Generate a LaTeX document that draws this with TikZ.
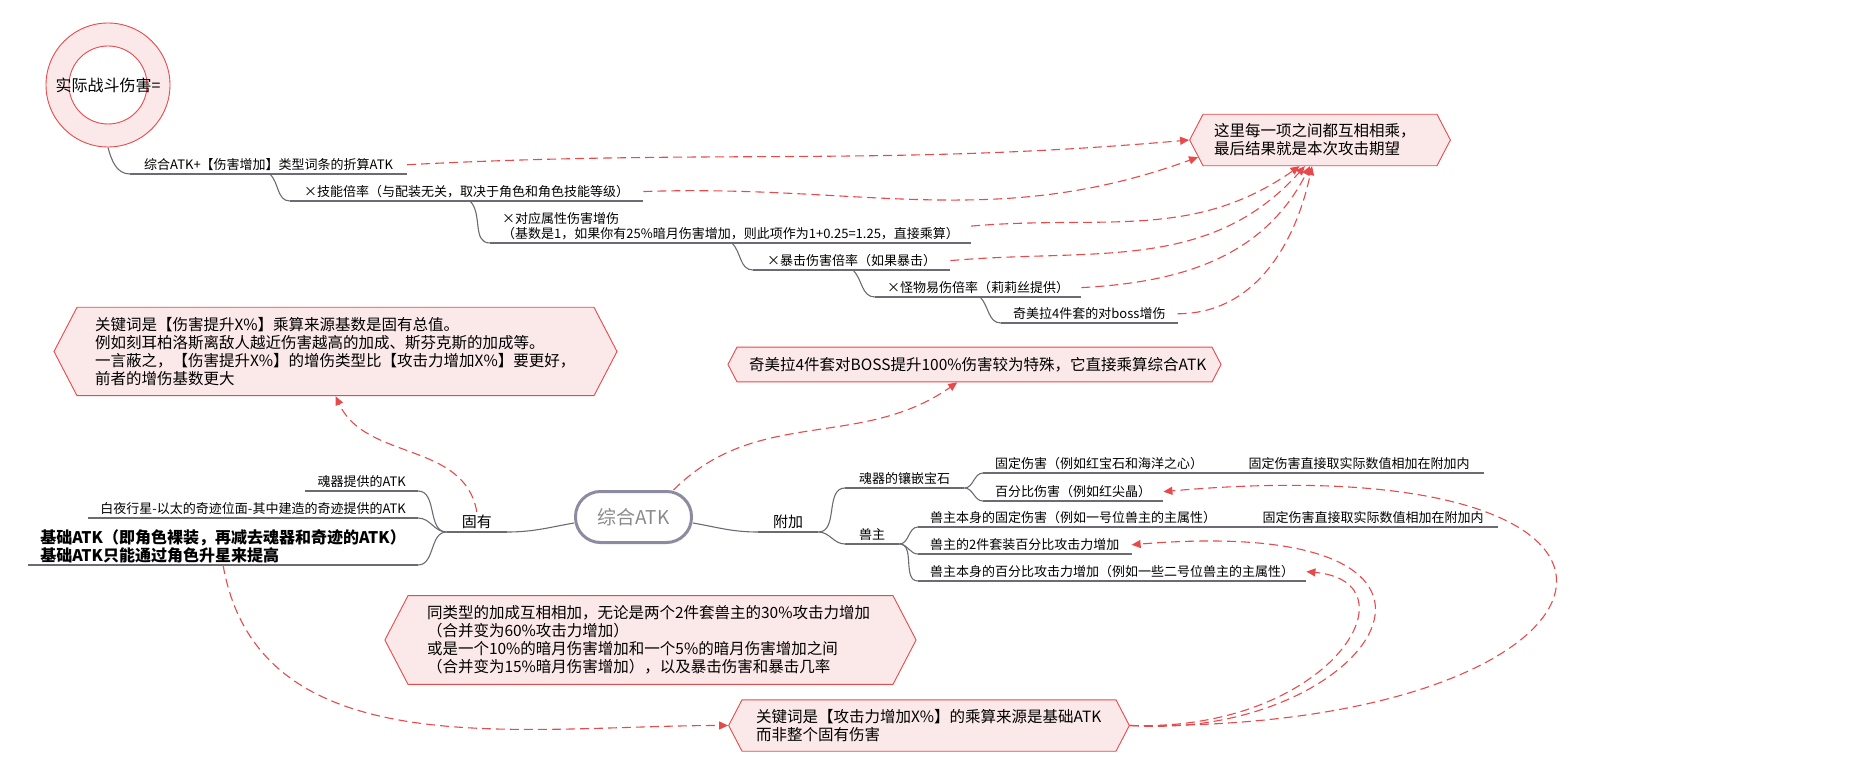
\documentclass[tikz,border=0pt]{standalone}
\usepackage{fontspec}
\setmainfont{Noto Sans CJK SC}
\usepackage{tikz}
\usetikzlibrary{positioning}
\usetikzlibrary{calc}
\usetikzlibrary{arrows.meta}
\usetikzlibrary{shapes.symbols}

\definecolor{notefill}{HTML}{FBE8E8}
\definecolor{notered}{HTML}{E8494B}
\definecolor{treegray}{HTML}{6E6A74}
\definecolor{hubgray}{HTML}{8C8BA0}
\definecolor{hubtext}{HTML}{8A8A8A}

\tikzset{
    topic/.style={anchor=south west, inner xsep=12pt, inner ysep=3pt, font=\fontsize{13}{15}\selectfont},
    branch/.style={draw=treegray, line width=1.1pt},
    note/.style={shape=signal, signal to=west and east, signal pointer angle=125, draw=notered, fill=notefill, line width=0.9pt, align=left, font=\fontsize{15.5}{18}\selectfont},
    link/.style={notered, line width=1.1pt, dash pattern=on 9pt off 5pt, -{Triangle[width=8pt,length=9pt]}},
    ringout/.style={circle, draw=notered, fill=notefill, line width=0.9pt, minimum size=124pt, inner sep=0pt},
    ringin/.style={circle, draw=notered, fill=white, line width=0.9pt, minimum size=78pt, inner sep=0pt},
    hub/.style={rectangle, rounded corners=25pt, draw=hubgray, line width=3pt, minimum width=116pt, minimum height=51pt, text=hubtext, font=\fontsize{19}{21}\selectfont},
}

\begin{document}
\begin{tikzpicture}[x=1pt, y=1pt]
    \useasboundingbox (0,0) rectangle (1858,772);

    \node[ringout] (goal) at (108,687) {};
    \node[ringin] (goalin) at (goal.center) {};
    \node[font=\fontsize{16}{18}\selectfont] (goaltxt) at (goal.center) {实际战斗伤害=};

    \node[topic, inner xsep=14pt] (t1) at (130,598) {综合ATK+【伤害增加】类型词条的折算ATK};
    \node[topic, inner xsep=14pt] (t2) at (290,571) {×技能倍率（与配装无关，取决于角色和角色技能等级）};
    \node[topic, align=left] (t3) at (490,529) {×对应属性伤害增伤\\（基数是1，如果你有25\%暗月伤害增加，则此项作为1+0.25=1.25，直接乘算）};
    \node[topic, inner xsep=14pt] (t4) at (753,502) {×暴击伤害倍率（如果暴击）};
    \node[topic] (t5) at (875,475) {×怪物易伤倍率（莉莉丝提供）};
    \node[topic] (t6) at (1001,449) {奇美拉4件套的对boss增伤};

    \node[hub] (atk) at (633.5,255) {综合ATK};
    \node[topic, anchor=south east, inner xsep=15pt, font=\fontsize{15}{17}\selectfont] (guyou) at (507,240) {固有};
    \node[topic, inner xsep=15pt, font=\fontsize{15}{17}\selectfont] (fujia) at (758,240) {附加};

    \node[topic, anchor=south east] (l1) at (418,281) {魂器提供的ATK};
    \node[topic, anchor=south east] (l2) at (418,254) {白夜行星-以太的奇迹位面-其中建造的奇迹提供的ATK};
    \node[topic, anchor=south east, inner xsep=12pt, inner ysep=2pt, align=left, font=\bfseries\fontsize{16}{18}\selectfont] (base) at (418,207) {基础ATK（即角色裸装，再减去魂器和奇迹的ATK）\\基础ATK只能通过角色升星来提高};

    \node[topic, inner xsep=14pt] (hunqi) at (845,284) {魂器的镶嵌宝石};
    \node[topic, inner xsep=14pt] (shouzhu) at (845,228) {兽主};
    \node[topic] (gem1) at (983,299) {固定伤害（例如红宝石和海洋之心）};
    \node[topic, inner xsep=14pt] (gem1n) at ([xshift=19pt]gem1.south east) {固定伤害直接取实际数值相加在附加内};
    \node[topic] (gem2) at (983,271) {百分比伤害（例如红尖晶）};
    \node[topic] (sz1) at (918,245) {兽主本身的固定伤害（例如一号位兽主的主属性）};
    \node[topic, inner xsep=14pt] (sz1n) at ([xshift=20pt]sz1.south east) {固定伤害直接取实际数值相加在附加内};
    \node[topic] (sz2) at (918,218) {兽主的2件套装百分比攻击力增加};
    \node[topic] (sz3) at (918,191) {兽主本身的百分比攻击力增加（例如一些二号位兽主的主属性）};

    \foreach \n in {t1,t2,t3,t4,t5,t6,guyou,fujia,l1,l2,base,hunqi,shouzhu,gem1,gem1n,gem2,sz1,sz1n,sz2,sz3}
        \draw[branch] (\n.south west) -- (\n.south east);

    \draw[branch] (goal.south) to[out=-75,in=180] (t1.south west);
    \draw[branch] ([xshift=140pt]t1.south west) to[out=-45,in=180] (t2.south west);
    \draw[branch] ([xshift=180pt]t2.south west) to[out=-45,in=180] (t3.south west);
    \draw[branch] ([xshift=242pt]t3.south west) to[out=-45,in=180] (t4.south west);
    \draw[branch] ([xshift=100pt]t4.south west) to[out=-45,in=180] (t5.south west);
    \draw[branch] ([xshift=105pt]t5.south west) to[out=-45,in=180] (t6.south west);

    \draw[branch] ([yshift=-6pt]atk.west) to[out=190,in=0] (guyou.south east);
    \draw[branch] ([yshift=-6pt]atk.east) to[out=-10,in=180] (fujia.south west);
    \foreach \n in {l1,l2,base}
        \draw[branch] (guyou.south west) to[out=180,in=0] (\n.south east);
    \foreach \n in {hunqi,shouzhu}
        \draw[branch] (fujia.south east) to[out=0,in=180] (\n.south west);
    \foreach \n in {gem1,gem2}
        \draw[branch] (hunqi.south east) to[out=0,in=180] (\n.south west);
    \foreach \n in {sz1,sz2,sz3}
        \draw[branch] (shouzhu.south east) to[out=0,in=180] (\n.south west);
    \draw[branch] (gem1.south east) -- (gem1n.south west);
    \draw[branch] (sz1.south east) -- (sz1n.south west);

    \node[note, text width=481pt, inner xsep=18pt, inner ysep=10pt] (noteA) at (335.5,420.5) {关键词是【伤害提升X\%】乘算来源基数是固有总值。\\例如刻耳柏洛斯离敌人越近伤害越高的加成、斯芬克斯的加成等。\\一言蔽之，【伤害提升X\%】的增伤类型比【攻击力增加X\%】要更好，\\前者的增伤基数更大};
    \node[note, text width=212pt, inner xsep=11pt, inner ysep=9.5pt] (noteB) at (1320,632) {这里每一项之间都互相相乘，\\最后结果就是本次攻击期望};
    \node[note, text width=451pt, inner xsep=12pt, inner ysep=10pt] (noteC) at (974.5,407.5) {奇美拉4件套对BOSS提升100\%伤害较为特殊，它直接乘算综合ATK};
    \node[note, text width=447pt, inner xsep=19pt, inner ysep=10pt] (noteD) at (650.5,132) {同类型的加成互相相加，无论是两个2件套兽主的30\%攻击力增加\\（合并变为60\%攻击力增加）\\或是一个10\%的暗月伤害增加和一个5\%的暗月伤害增加之间\\（合并变为15\%暗月伤害增加），以及暴击伤害和暴击几率};
    \node[note, text width=346pt, inner xsep=14pt, inner ysep=9.5pt] (noteE) at (929,46.5) {关键词是【攻击力增加X\%】的乘算来源是基础ATK\\而非整个固有伤害};

    \draw[link] (t1.east) to[out=3,in=185] (noteB.west);
    \draw[link] (t2.east) to[out=2,in=200] (noteB.188);
    \draw[link] (t3.east) to[out=5,in=215] (noteB.232);
    \draw[link] (t4.east) to[out=5,in=228] (noteB.240);
    \draw[link] (t5.east) to[out=3,in=243] (noteB.249);
    \draw[link] (t6.east) to[out=0,in=258] (noteB.253);
    \draw[link] (guyou.north) to[out=100,in=-65] (noteA.south);
    \draw[link] ([xshift=40pt]atk.north) to[out=45,in=215] (noteC.226);
    \draw[link] (base.south) to[out=-80,in=180] (noteE.west);
    \draw[link] (noteE.east) .. controls (1650,40) and (1730,330) .. (gem2.east);
    \draw[link] (noteE.east) .. controls (1370,30) and (1530,260) .. (sz2.east);
    \draw[link] (noteE.east) .. controls (1330,40) and (1420,190) .. (sz3.east);
\end{tikzpicture}
\end{document}
